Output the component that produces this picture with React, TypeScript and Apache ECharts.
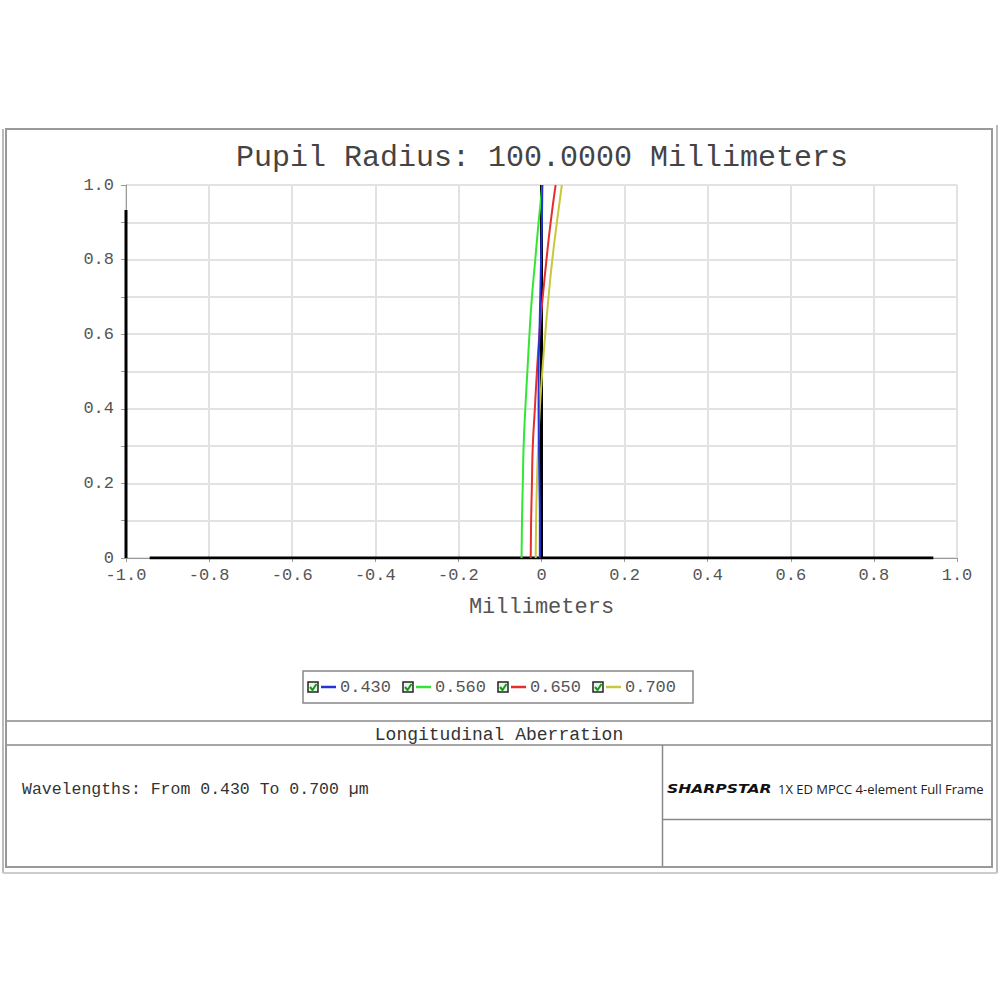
import React, { useEffect, useRef } from "react";
import * as echarts from "echarts";

const wavelengths = [0.43, 0.56, 0.65, 0.7];
const seriesColors = ["#2233dd", "#33e633", "#e62e2e", "#c8c83a"];
const pupilY = [0, 0.1, 0.2, 0.3, 0.4, 0.5, 0.6, 0.7, 0.8, 0.9, 1.0];
const x430 = [-0.004, -0.004, -0.005, -0.006, -0.007, -0.007, -0.005, -0.003, -0.001, 0.001, 0.002];
const x560 = [-0.048, -0.047, -0.045, -0.043, -0.039, -0.034, -0.029, -0.023, -0.015, -0.007, 0.002];
const x650 = [-0.026, -0.025, -0.023, -0.021, -0.016, -0.011, -0.005, 0.003, 0.012, 0.022, 0.034];
const x700 = [-0.014, -0.013, -0.011, -0.008, -0.004, 0.002, 0.009, 0.017, 0.026, 0.037, 0.049];
const seriesX = [x430, x560, x650, x700];

// decorative black axis lines of the original plot
const zeroLine = [[0, 0], [0, 1]];
const xAxisBlack = [[-0.943, 0], [0.943, 0]];
const yAxisBlack = [[-1, 0], [-1, 0.933]];

const titleText = "Pupil Radius: 100.0000 Millimeters";
const xAxisName = "Millimeters";
const panelTitle = "Longitudinal Aberration";
const wavelengthText = "Wavelengths: From 0.430 To 0.700 µm";
const brandText = "SHARPSTAR";
const productText = "1X ED MPCC 4-element Full Frame";

const MONO = "'Liberation Mono', 'DejaVu Sans Mono', monospace";

export default function App() {
  const ref = useRef<HTMLDivElement>(null);
  useEffect(() => {
    if (!ref.current) return;
    const chart = echarts.init(ref.current, null, { renderer: "svg" });

    const blackSeries = [zeroLine, xAxisBlack, yAxisBlack].map((d) => ({
      type: "line",
      data: d,
      symbol: "none",
      silent: true,
      lineStyle: { color: "#000", width: 3 },
      z: 2,
    }));

    const curveSeries = wavelengths.map((w, i) => ({
      name: w.toFixed(3),
      type: "line",
      data: pupilY.map((y, j) => [seriesX[i][j], y]),
      symbol: "none",
      smooth: true,
      lineStyle: { color: seriesColors[i], width: 2 },
      z: i === 0 ? 4 : 3,
    }));

    const legendItems: any[] = [];
    wavelengths.forEach((w, i) => {
      const x0 = 308 + i * 95;
      legendItems.push(
        { type: "rect", shape: { x: x0, y: 682, width: 10, height: 10 }, style: { fill: "#eaf5ea", stroke: "#222", lineWidth: 1.5 } },
        { type: "polyline", shape: { points: [[x0 + 2, 687], [x0 + 4.5, 690], [x0 + 8.5, 684]] }, style: { stroke: "#1a9a1a", lineWidth: 2, fill: "none" } },
        { type: "line", shape: { x1: x0 + 13, y1: 687, x2: x0 + 28, y2: 687 }, style: { stroke: seriesColors[i], lineWidth: 2.5 } },
        { type: "text", x: x0 + 32, y: 687, style: { text: w.toFixed(3), font: `17px ${MONO}`, fill: "#555", verticalAlign: "middle" } }
      );
    });

    chart.setOption({
      animation: false,
      backgroundColor: "#fff",
      title: {
        text: titleText,
        left: 537,
        top: 138,
        textAlign: "center",
        textStyle: { fontFamily: MONO, fontSize: 30, fontWeight: "normal", color: "#444" },
      },
      grid: { left: 126, right: 43, top: 185, bottom: 442 },
      xAxis: {
        type: "value",
        min: -1,
        max: 1,
        interval: 0.2,
        name: xAxisName,
        nameLocation: "middle",
        nameGap: 38,
        nameTextStyle: { fontFamily: MONO, fontSize: 22, color: "#555" },
        axisLine: { show: true, onZero: false, lineStyle: { color: "#999", width: 1 } },
        axisTick: { show: true, length: 4, lineStyle: { color: "#999" } },
        axisLabel: {
          fontFamily: MONO,
          fontSize: 17,
          lineHeight: 14,
          color: "#555",
          margin: 10,
          formatter: (v: number) => (Math.abs(v) < 1e-9 ? "0" : v.toFixed(1)),
        },
        splitLine: { show: true, lineStyle: { color: "#e2e2e2", width: 2 } },
      },
      yAxis: {
        type: "value",
        min: 0,
        max: 1,
        interval: 0.1,
        axisLine: { show: true, onZero: false, lineStyle: { color: "#999", width: 1 } },
        axisTick: { show: true, length: 5, lineStyle: { color: "#999" } },
        axisLabel: {
          fontFamily: MONO,
          fontSize: 17,
          lineHeight: 14,
          color: "#555",
          margin: 12,
          formatter: (v: number) => {
            const k = Math.round(v * 10);
            if (k % 2 !== 0) return "";
            return k === 0 ? "0" : v.toFixed(1);
          },
        },
        splitLine: { show: true, lineStyle: { color: "#e2e2e2", width: 2 } },
      },
      series: [...blackSeries, ...curveSeries],
      graphic: [
        // outer frame
        { type: "rect", shape: { x: 6, y: 129, width: 986, height: 738 }, style: { fill: "none", stroke: "#999", lineWidth: 2 }, z: 10 },
        { type: "line", shape: { x1: 3, y1: 129, x2: 3, y2: 873 }, style: { stroke: "#bbb", lineWidth: 2 } },
        { type: "line", shape: { x1: 997, y1: 125, x2: 997, y2: 873 }, style: { stroke: "#bbb", lineWidth: 2 } },
        { type: "line", shape: { x1: 3, y1: 873, x2: 997, y2: 873 }, style: { stroke: "#ccc", lineWidth: 2 } },
        // bottom panel lines
        { type: "line", shape: { x1: 6, y1: 721, x2: 992, y2: 721 }, style: { stroke: "#888", lineWidth: 1.5 } },
        { type: "line", shape: { x1: 6, y1: 745, x2: 992, y2: 745 }, style: { stroke: "#888", lineWidth: 1.5 } },
        { type: "line", shape: { x1: 662.5, y1: 745, x2: 662.5, y2: 867 }, style: { stroke: "#888", lineWidth: 1.5 } },
        { type: "line", shape: { x1: 662.5, y1: 819.5, x2: 992, y2: 819.5 }, style: { stroke: "#888", lineWidth: 1.5 } },
        // legend box
        { type: "rect", shape: { x: 303, y: 671, width: 390, height: 32 }, style: { fill: "#fff", stroke: "#888", lineWidth: 1.5 } },
        ...legendItems,
        // panel texts
        { type: "text", x: 499, y: 735, style: { text: panelTitle, font: `18px ${MONO}`, fill: "#333", align: "center", verticalAlign: "middle" } },
        { type: "text", x: 22, y: 789, style: { text: wavelengthText, font: `16.5px ${MONO}`, fill: "#333", verticalAlign: "middle" } },
        { type: "text", x: 667, y: 789, scaleX: 1.25, style: { text: brandText, font: "italic 900 12.5px 'DejaVu Sans', sans-serif", fill: "#111", verticalAlign: "middle" } },
        { type: "text", x: 778, y: 789, style: { text: productText, font: "13px 'Open Sans', sans-serif", fill: "#222", verticalAlign: "middle" } },
      ],
    });
    return () => chart.dispose();
  }, []);
  return <div ref={ref} style={{ position: "absolute", left: 0, top: 0, width: 1000, height: 1000 }} />;
}
